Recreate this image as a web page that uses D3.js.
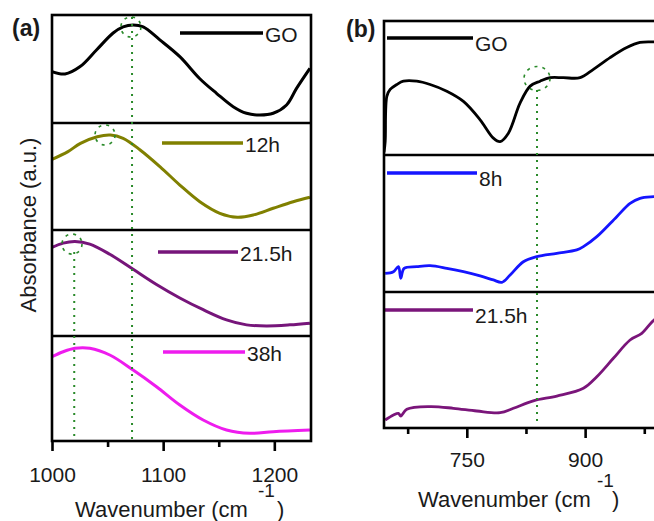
<!DOCTYPE html>
<html>
<head>
<meta charset="utf-8">
<script src="https://cdn.jsdelivr.net/npm/d3@7"></script>
<style>
  body { margin: 0; background: #fff; }
  text { font-family: "Liberation Sans", Arial, sans-serif; fill: #1a1a1a; }
</style>
</head>
<body>
<svg id="chart" width="654" height="521"></svg>
<script>
// ---- data: [wavenumber, normalised absorbance] ----
// panel (a), 1000-1233 cm-1
const goA = [[1000,0.475],[1011.7,0.454],[1025,0.52],[1040,0.676],[1055,0.833],[1064,0.89],[1073,0.907],
  [1082,0.89],[1097,0.77],[1115,0.614],[1133,0.41],[1148,0.275],[1163,0.151],[1175,0.09],[1187,0.074],
  [1199,0.09],[1211,0.167],[1220,0.321],[1232,0.506]]
const h12A = [[1000,0.66],[1014,0.73],[1025.6,0.81],[1040.7,0.872],[1052.6,0.888],[1064,0.857],[1079.3,0.748],
  [1097.3,0.59],[1115,0.42],[1133,0.264],[1151,0.156],[1166.7,0.119],[1181,0.14],[1199,0.203],[1217,0.264],[1232,0.306]]
const h215A = [[1000,0.835],[1010,0.876],[1020.7,0.892],[1034,0.867],[1052,0.771],[1073,0.629],[1094,0.486],
  [1115,0.359],[1136,0.248],[1157,0.152],[1175,0.105],[1193,0.095],[1214,0.105],[1232,0.121]]
const h38A = [[1000,0.803],[1010,0.85],[1020.7,0.883],[1034,0.883],[1052,0.819],[1073,0.676],[1094,0.517],
  [1115,0.343],[1136,0.2],[1157,0.105],[1178,0.073],[1199,0.089],[1232,0.105]]

// panel (b), 645-1000 cm-1 (cut at the right edge)
const goB = [[645,0.02],[646.5,0.1],[648.6,0.438],[652.8,0.489],[661.2,0.526],[669.6,0.551],[686.6,0.551],
  [703.5,0.526],[724.6,0.476],[745.7,0.4],[766.9,0.263],[783.7,0.126],[792.2,0.1],[802.7,0.163],
  [817.6,0.389],[830.3,0.514],[842.9,0.551],[855.6,0.577],[872.4,0.577],[893.6,0.577],[910.5,0.639],
  [931.6,0.727],[952.8,0.802],[969.6,0.84],[987.4,0.844],[1000,0.845]]
const h8B = [[646.5,0.136],[657,0.148],[663.3,0.185],[666.3,0.1],[670.5,0.173],[686.6,0.185],[703.5,0.192],
  [724.7,0.173],[745.7,0.148],[766.9,0.117],[783.7,0.088],[794.4,0.071],[804.9,0.124],[821.7,0.221],
  [838.7,0.258],[864.1,0.282],[889.4,0.307],[897.8,0.331],[914.8,0.404],[940.1,0.55],[957,0.647],
  [969.6,0.684],[987.4,0.696],[1000,0.7]]
const h215B = [[646.5,0.059],[657,0.096],[663.3,0.108],[666.3,0.088],[673.9,0.1375],[703.5,0.157],[733,0.145],
  [762.7,0.125],[792.2,0.1125],[809.1,0.145],[834.4,0.2],[864.1,0.235],[897.8,0.292],[914.8,0.377],
  [935.8,0.5125],[957,0.647],[971.8,0.696],[987.4,0.794],[1000,0.83]]

// ticks
const majorsA = [1000, 1100, 1200], minorsA = [1050, 1150]
const majorsB = [750, 900], minorsB = [675, 825, 975]

// marked peaks [wavenumber, value, strip]
const peaksA = [[1071, 0.889, 0], [1047.7, 0.888, 1], [1018, 0.867, 2]]
const peaksB = [[839, 0.571, 0]]

const svg = d3.select("#chart")
const green = "#2a8a2a"

const panels = [
  {
    id: "a", label: "(a)", labelX: 12, labelY: 36,
    domain: [1000, 1233], left: 52, right: 311, rows: [15, 123, 230, 336, 441],
    majors: majorsA, minors: minorsA, tickLabelY: 26.5, lw: 3,
    series: [
      { name: "GO", data: goA, color: "#000", leg: [180, 263, 18] },
      { name: "12h", data: h12A, color: "#808000", leg: [162, 243, 20] },
      { name: "21.5h", data: h215A, color: "#76157a", leg: [158, 238, 22] },
      { name: "38h", data: h38A, color: "#ee1cee", leg: [163, 245, 16] }
    ],
    peaks: peaksA, r: [10, 10],
    guides: [{ wn: 1072, top: 17 }, { wn: 1020, top: 252 }],
    title: { x: 75, y: 517, supX: 258, supY: 497, parX: 277 }
  },
  {
    id: "b", label: "(b)", labelX: 346, labelY: 37,
    domain: [645, 1000], left: 384, right: 664, rows: [21, 155, 292, 428],
    majors: majorsB, minors: minorsB, tickLabelY: 24.5, lw: 2.8,
    series: [
      { name: "GO", data: goB, color: "#000", leg: [387, 473, 17] },
      { name: "8h", data: h8B, color: "#1515ff", leg: [387, 477, 18] },
      { name: "21.5h", data: h215B, color: "#7a157a", leg: [385, 473, 18] }
    ],
    peaks: peaksB, r: [13, 12],
    guides: [{ wn: 839, top: 90 }],
    title: { x: 418, y: 507, supX: 597, supY: 487, parX: 612 }
  }
]

panels.forEach(drawPanel)

function drawPanel(p) {
  const g = svg.append("g").attr("class", "panel-" + p.id)
  const x = d3.scaleLinear().domain(p.domain).range([p.left, p.right])
  const n = p.series.length
  const bottom = p.rows[n]
  const ys = p.series.map((s, i) => d3.scaleLinear().domain([0, 1]).range([p.rows[i + 1], p.rows[i]]))

  // curves, each clipped to its own strip
  p.series.forEach((s, i) => {
    const top = p.rows[i], bot = p.rows[i + 1]
    const cid = `clip-${p.id}-${i}`
    g.append("clipPath").attr("id", cid)
      .append("rect").attr("x", p.left).attr("y", top)
      .attr("width", p.right - p.left).attr("height", bot - top)
    g.append("path")
      .datum(s.data)
      .attr("clip-path", `url(#${cid})`)
      .attr("fill", "none")
      .attr("stroke", s.color)
      .attr("stroke-width", p.lw)
      .attr("stroke-linejoin", "round")
      .attr("d", d3.line()
        .x(d => x(d[0]))
        .y(d => ys[i](d[1]))
        .curve(d3.curveCatmullRom.alpha(0.5)))

    // legend line + name
    const ly = top + s.leg[2]
    g.append("line")
      .attr("x1", s.leg[0]).attr("x2", s.leg[1])
      .attr("y1", ly).attr("y2", ly)
      .attr("stroke", s.color).attr("stroke-width", 3.5)
    g.append("text")
      .attr("x", s.leg[1] + 2)
      .attr("y", ly + (p.id == "a" ? 9 : 13))
      .attr("font-size", 21)
      .text(s.name)
  })

  // frame and strip dividers
  g.append("rect")
    .attr("x", p.left).attr("y", p.rows[0])
    .attr("width", p.right - p.left).attr("height", bottom - p.rows[0])
    .attr("fill", "none").attr("stroke", "#000").attr("stroke-width", 2.6)
  p.rows.slice(1, n).forEach(r => {
    g.append("line")
      .attr("x1", p.left).attr("x2", p.right)
      .attr("y1", r).attr("y2", r)
      .attr("stroke", "#000").attr("stroke-width", 2.6)
  })

  // green dotted guides and circled peaks
  p.guides.forEach(d => {
    g.append("line")
      .attr("x1", x(d.wn)).attr("x2", x(d.wn))
      .attr("y1", d.top).attr("y2", bottom - 2)
      .attr("stroke", green).attr("stroke-width", 2)
      .attr("stroke-dasharray", "2,5")
  })
  p.peaks.forEach(d => {
    g.append("ellipse")
      .attr("cx", x(d[0])).attr("cy", ys[d[2]](d[1]))
      .attr("rx", p.r[0]).attr("ry", p.r[1])
      .attr("fill", "none").attr("stroke", green).attr("stroke-width", 1.6)
      .attr("stroke-dasharray", "3,5")
  })

  // bottom axis: labelled majors and short minors
  const axis = g.append("g").attr("transform", `translate(0,${bottom})`)
  axis.append("g")
    .call(d3.axisBottom(x).tickValues(p.majors).tickSize(10).tickFormat(d3.format("d")))
    .call(a => {
      a.attr("font-size", 21)
      a.select(".domain").remove()
      a.selectAll("line").attr("stroke", "#000").attr("stroke-width", 2.6)
      a.selectAll("text").attr("y", p.tickLabelY).attr("fill", "#1a1a1a")
    })
  axis.append("g")
    .call(d3.axisBottom(x).tickValues(p.minors).tickSize(6).tickFormat(""))
    .call(a => {
      a.select(".domain").remove()
      a.selectAll("line").attr("stroke", "#000").attr("stroke-width", 2.6)
    })

  // axis title with superscript
  const t = p.title
  g.append("text").attr("x", t.x).attr("y", t.y).attr("font-size", 22).text("Wavenumber (cm")
  g.append("text").attr("x", t.supX).attr("y", t.supY).attr("font-size", 19).text("-1")
  g.append("text").attr("x", t.parX).attr("y", t.y).attr("font-size", 22).text(")")

  // panel letter
  g.append("text")
    .attr("x", p.labelX).attr("y", p.labelY)
    .attr("font-size", 23).attr("font-weight", "bold")
    .text(p.label)
}

// shared y title on the left panel
svg.append("text")
  .attr("transform", "translate(28,225) rotate(-90)")
  .attr("text-anchor", "middle")
  .attr("dominant-baseline", "central")
  .attr("font-size", 22)
  .text("Absorbance (a.u.)")
</script>
</body>
</html>
